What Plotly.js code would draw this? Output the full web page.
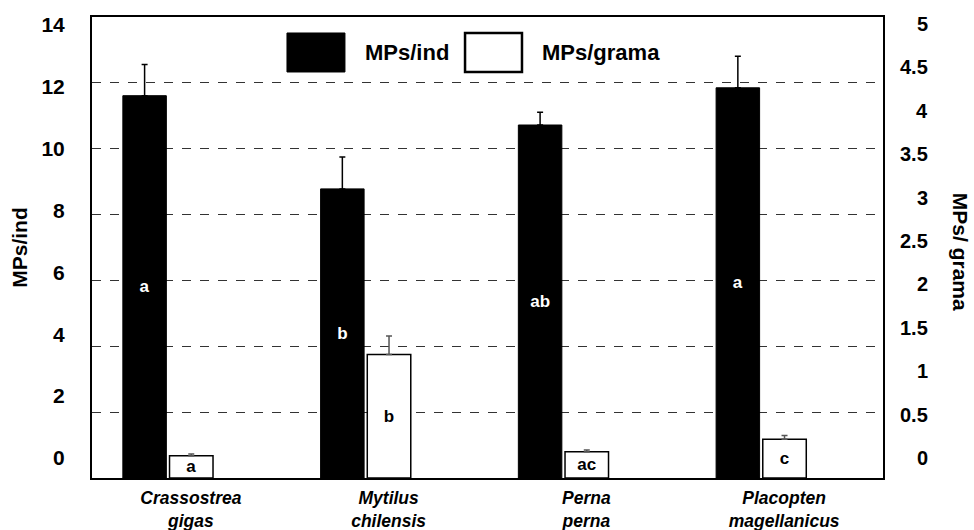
<!DOCTYPE html>
<html>
<head>
<meta charset="utf-8">
<script src="https://cdn.plot.ly/plotly-3.0.1.min.js"></script>
<style>html,body{margin:0;padding:0;background:#fff;}#chart{width:974px;height:530px;}</style>
</head>
<body>
<div id="chart"></div>
<script>
// ---- data ----
const categories = ['Crassostrea<br>gigas', 'Mytilus<br>chilensis', 'Perna<br>perna', 'Placopten<br>magellanicus'];
const mpsInd = [11.61, 8.78, 10.72, 11.85];
const mpsIndErr = [0.95, 0.97, 0.39, 0.96];
const mpsGrama = [0.24, 1.34, 0.285, 0.42];
const mpsGramaErr = [0.02, 0.20, 0.02, 0.04];
const lettersInd = ['a', 'b', 'ab', 'a'];
const lettersGrama = ['a', 'b', 'ac', 'c'];
const leftTicks = [0, 2, 4, 6, 8, 10, 12, 14];
const rightTicks = [0, 0.5, 1, 1.5, 2, 2.5, 3, 3.5, 4, 4.5, 5];
const seriesNames = ['MPs/ind', 'MPs/grama'];
const leftTitle = 'MPs/ind';
const rightTitle = 'MPs/ grama';

const FONT = 'Liberation Sans, Arial, sans-serif';

const traces = [
  {
    type: 'bar', name: seriesNames[0], x: categories, y: mpsInd, yaxis: 'y',
    width: 0.22, offset: -0.344,
    marker: {color: '#000', line: {color: '#000', width: 1}},
    error_y: {type: 'data', array: mpsIndErr, symmetric: false, arrayminus: mpsInd.map(() => 0), color: '#000', thickness: 1.5, width: 3},
    text: lettersInd, textposition: 'inside', insidetextanchor: 'middle', textangle: 0, constraintext: 'none',
    textfont: {family: FONT, size: 17, color: '#fff', weight: 'bold'},
    hoverinfo: 'skip', showlegend: false
  },
  {
    type: 'bar', name: seriesNames[1], x: categories, y: mpsGrama, yaxis: 'y2',
    width: 0.22, offset: -0.108,
    marker: {color: '#fff', line: {color: '#000', width: 1.5}},
    error_y: {type: 'data', array: mpsGramaErr, symmetric: false, arrayminus: mpsGrama.map(() => 0), color: '#555', thickness: 1.5, width: 3},
    text: lettersGrama, textposition: 'inside', insidetextanchor: 'middle', textangle: 0, constraintext: 'none',
    textfont: {family: FONT, size: 17, color: '#000', weight: 'bold'},
    hoverinfo: 'skip', showlegend: false
  }
];

// legend (drawn manually: large swatches)
const shapes = [
  {type: 'rect', xref: 'paper', yref: 'paper', x0: 0.2465, x1: 0.3198, y0: 0.8807, y1: 0.9653, fillcolor: '#000', line: {color: '#000', width: 1}},
  {type: 'rect', xref: 'paper', yref: 'paper', x0: 0.4716, x1: 0.5436, y0: 0.8807, y1: 0.9653, fillcolor: '#fff', line: {color: '#000', width: 2.5}}
];

const annotations = [
  {xref: 'paper', yref: 'paper', x: 0.3426, y: 0.923, xanchor: 'left', yanchor: 'middle', showarrow: false,
   text: seriesNames[0], font: {family: FONT, size: 22, color: '#000', weight: 'bold'}},
  {xref: 'paper', yref: 'paper', x: 0.5664, y: 0.923, xanchor: 'left', yanchor: 'middle', showarrow: false,
   text: seriesNames[1], font: {family: FONT, size: 22, color: '#000', weight: 'bold'}},
  {xref: 'paper', yref: 'paper', x: -0.092, y: 0.50, xanchor: 'center', yanchor: 'middle', showarrow: false, textangle: -90,
   text: leftTitle, font: {family: FONT, size: 21, color: '#000', weight: 'bold'}},
  {xref: 'paper', yref: 'paper', x: 1.099, y: 0.49, xanchor: 'center', yanchor: 'middle', showarrow: false, textangle: 90,
   text: rightTitle, font: {family: FONT, size: 21, color: '#000', weight: 'bold'}}
];
rightTicks.forEach(v => annotations.push({
  xref: 'paper', yref: 'y4', x: 1.0594, y: v, xanchor: 'right', yanchor: 'middle', showarrow: false,
  text: String(v), font: {family: FONT, size: 20, color: '#000', weight: 'bold'}
}));

const layout = {
  width: 974, height: 530,
  margin: {l: 92, r: 91, t: 17, b: 52},
  paper_bgcolor: '#fff', plot_bgcolor: '#fff',
  showlegend: false,
  barmode: 'overlay',
  xaxis: {
    type: 'category', showline: true, mirror: true, linecolor: '#000', linewidth: 2,
    showgrid: false, zeroline: false,
    ticks: 'outside', ticklen: 3, tickcolor: 'rgba(0,0,0,0)',
    tickfont: {family: FONT, size: 17.5, color: '#000', weight: 'bold', style: 'italic'}
  },
  yaxis: {
    range: [0, 14], showline: true, linecolor: '#000', linewidth: 2,
    showgrid: true, gridcolor: '#333', gridwidth: 1, griddash: 'dash',
    tickvals: [2, 4, 6, 8, 10, 12], showticklabels: false, ticks: '', zeroline: false
  },
  yaxis2: {
    range: [0, 5], overlaying: 'y', side: 'right', showline: true, linecolor: '#000', linewidth: 2,
    showgrid: false, showticklabels: false, ticks: '', zeroline: false
  },
  yaxis3: {
    range: [-0.647, 14.26], overlaying: 'y', side: 'left', showline: false, showgrid: false, zeroline: false,
    tickvals: leftTicks, ticks: 'outside', ticklen: 22, tickcolor: 'rgba(0,0,0,0)',
    tickfont: {family: FONT, size: 21, color: '#000', weight: 'bold'}
  },
  yaxis4: {
    range: [-0.230, 5.081], overlaying: 'y', side: 'right', showline: false, showgrid: false, zeroline: false,
    showticklabels: false, ticks: ''
  },
  shapes: shapes,
  annotations: annotations
};

// invisible traces to activate the label-only overlay axes
traces.push({type: 'scatter', x: [categories[0]], y: [0], yaxis: 'y3', mode: 'markers', marker: {opacity: 0}, hoverinfo: 'skip', showlegend: false});
traces.push({type: 'scatter', x: [categories[0]], y: [0], yaxis: 'y4', mode: 'markers', marker: {opacity: 0}, hoverinfo: 'skip', showlegend: false});

Plotly.newPlot('chart', traces, layout, {staticPlot: true});
</script>
</body>
</html>
